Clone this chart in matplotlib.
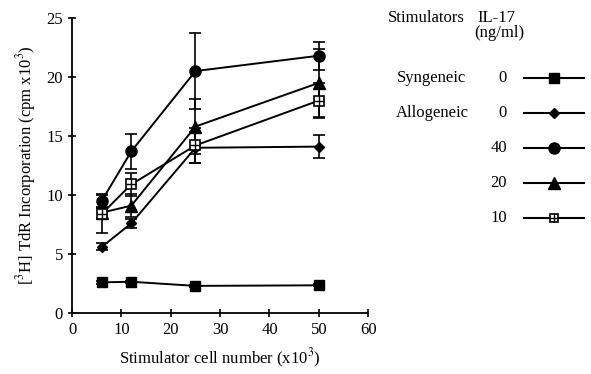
import matplotlib.pyplot as plt
from matplotlib.lines import Line2D

plt.rcParams['font.family'] = ['Liberation Serif', 'DejaVu Serif']
plt.rcParams['mathtext.fontset'] = 'stix'

# stimulator cell number (x10^3)
cells = [6, 12, 25, 50]

# means and error bar half-widths (cpm x10^3)
syn = [2.6, 2.65, 2.3, 2.35]
syn_err = [0.1, 0.1, 0.1, 0.1]
allo0 = [5.6, 7.6, 14.0, 14.1]
allo0_err = [0.3, 0.4, 1.3, 0.95]
il40 = [9.5, 13.7, 20.5, 21.8]
il40_err = [0.6, 1.5, 3.2, 1.2]
il20 = [8.5, 9.1, 15.8, 19.5]
il20_err = [0.5, 1.0, 2.3, 2.9]
il10 = [8.4, 10.9, 14.2, 18.0]
il10_err = [1.6, 1.0, 1.5, 1.5]

legend_names = ['Syngeneic', 'Allogeneic', '', '', '']
legend_doses = ['0', '0', '40', '20', '10']

series = [
    (syn, syn_err, dict(marker='s', ms=7.5, mfc='black')),
    (allo0, allo0_err, dict(marker='D', ms=5.5, mfc='black')),
    (il40, il40_err, dict(marker='o', ms=8, mfc='black')),
    (il20, il20_err, dict(marker='^', ms=8, mfc='black')),
    (il10, il10_err, dict(marker='s', ms=7.5, mfc='white', mew=1.2)),
]

fig = plt.figure(figsize=(5.91, 3.74), dpi=100)
ax = fig.add_axes([0.122, 0.163, 0.501, 0.789])

for vals, err, style in series:
    ax.errorbar(cells, vals, yerr=err, color='black', lw=1.4, capsize=4,
                elinewidth=1.2, capthick=1.2, mec='black', zorder=3, **style)
# cross inside the open squares
ax.plot(cells, il10, ls='none', marker='+', ms=7, mew=1.0, color='black',
        zorder=10)

ax.set_xlim(0, 60)
ax.set_ylim(0, 25)
ax.set_xticks([0, 10, 20, 30, 40, 50, 60])
ax.set_yticks([0, 5, 10, 15, 20, 25])
ax.spines['top'].set_visible(False)
ax.spines['right'].set_visible(False)
ax.spines['left'].set_linewidth(1.3)
ax.spines['bottom'].set_linewidth(1.3)
ax.tick_params(direction='inout', length=6, width=1.2, labelsize=12)
ax.set_xlabel('Stimulator cell number (x10$^3$)', fontsize=12, labelpad=6)
ax.set_ylabel('[$^3$H] TdR Incorporation (cpm x10$^3$)', fontsize=12, labelpad=6)

# legend drawn in figure coords
def fx(px):
    return px / 591

def fy(py):
    return 1 - py / 374

fig.text(fx(388), fy(18), 'Stimulators', fontsize=12, va='center')
fig.text(fx(477), fy(18), 'IL-17', fontsize=12, va='center')
fig.text(fx(474), fy(33), '(ng/ml)', fontsize=12, va='center')

row_y = [78, 113, 148, 183, 218]
for i, (name, dose) in enumerate(zip(legend_names, legend_doses)):
    y = fy(row_y[i])
    if name:
        fig.text(fx(432), y, name, fontsize=12, va='center', ha='center')
    fig.text(fx(507), y, dose, fontsize=12, va='center', ha='right')
    style = dict(series[i][2])
    if i == 4:
        style['ms'] = 6
    fig.add_artist(Line2D([fx(524), fx(584)], [y, y], color='black', lw=1.5,
                          transform=fig.transFigure))
    fig.add_artist(Line2D([fx(554)], [y], color='black', mec='black',
                          transform=fig.transFigure, **style))
    if i == 4:
        fig.add_artist(Line2D([fx(554)], [y], color='black', marker='+', ms=6,
                              mew=1.0, transform=fig.transFigure, zorder=10))

fig.savefig('out.png', dpi=100)
